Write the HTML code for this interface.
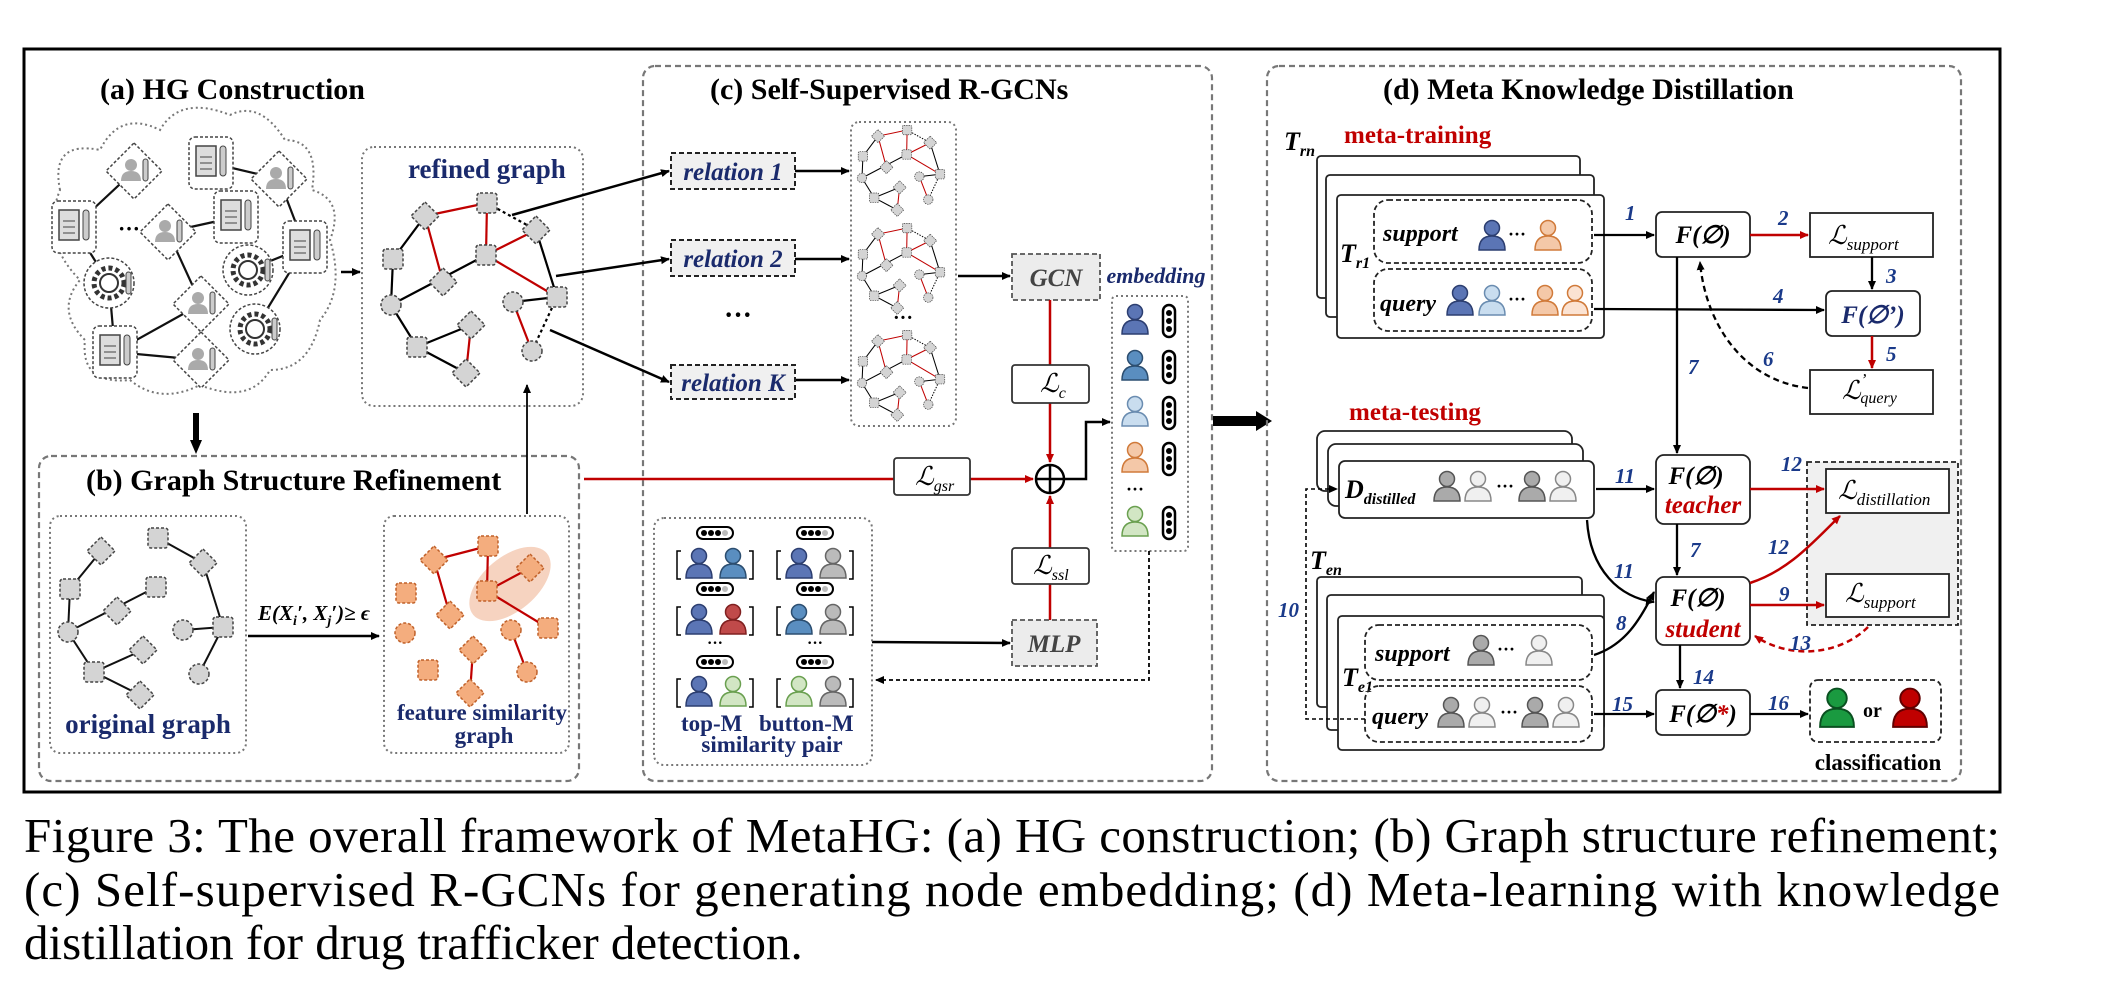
<!DOCTYPE html>
<html><head><meta charset="utf-8"><style>
html,body{margin:0;padding:0;background:#fff;}
svg{display:block;}
text{font-family:"Liberation Serif",serif;}
.t{font-weight:bold;font-size:30px;fill:#000;}
.bl{font-style:italic;font-weight:bold;fill:#1a2a6c;}
.n{font-style:italic;font-size:21px;fill:#1a3a8a;}
.red{fill:#c00000;font-weight:bold;}
</style></head><body>
<svg width="2105" height="999" viewBox="0 0 2105 999" xmlns="http://www.w3.org/2000/svg">
<defs>
<marker id="ak" markerWidth="10" markerHeight="10" refX="8" refY="5" orient="auto" markerUnits="userSpaceOnUse"><path d="M0,1 L9,5 L0,9 Z" fill="#000"/></marker>
<marker id="ar" markerWidth="10" markerHeight="10" refX="8" refY="5" orient="auto" markerUnits="userSpaceOnUse"><path d="M0,1 L9,5 L0,9 Z" fill="#c00000"/></marker>
<g id="p"><circle cx="0" cy="-9" r="7.5"/><path d="M-13,13 Q-13,-1 0,-1 Q13,-1 13,13 Z"/></g>
<g id="pill"><rect x="-6" y="-16" width="12" height="32" rx="6" fill="#fff" stroke="#000" stroke-width="2.5"/><circle cx="0" cy="-8" r="3" fill="#000"/><circle cx="0" cy="0" r="3" fill="#000"/><circle cx="0" cy="8" r="3" fill="#000"/></g>
<g id="hp"><rect x="-18" y="-6" width="36" height="12" rx="6" fill="#fff" stroke="#000" stroke-width="2"/><circle cx="-11" cy="0" r="3" fill="#000"/><circle cx="-4" cy="0" r="3" fill="#000"/><circle cx="3" cy="0" r="3" fill="#000"/><circle cx="10" cy="0" r="3" fill="#bbb"/></g>
<g id="sq"><rect x="-10" y="-10" width="20" height="20" rx="3" stroke-dasharray="3,2"/></g>
<g id="dm"><path d="M0,-14 L14,0 L0,14 L-14,0 Z" stroke-dasharray="3,2"/></g>
<g id="rg" stroke-width="2.2">
<g fill="none">
<line x1="425" y1="216" x2="487" y2="203" stroke="#c00000"/>
<line x1="425" y1="216" x2="443" y2="282" stroke="#c00000"/>
<line x1="487" y1="203" x2="486" y2="255" stroke="#c00000"/>
<line x1="486" y1="255" x2="536" y2="230" stroke="#c00000"/>
<line x1="486" y1="255" x2="557" y2="297" stroke="#c00000"/>
<line x1="513" y1="302" x2="532" y2="351" stroke="#c00000"/>
<line x1="471" y1="325" x2="466" y2="373" stroke="#c00000"/>
<line x1="425" y1="216" x2="393" y2="259" stroke="#000"/>
<line x1="393" y1="259" x2="391" y2="305" stroke="#000"/>
<line x1="391" y1="305" x2="486" y2="255" stroke="#000"/>
<line x1="391" y1="305" x2="417" y2="347" stroke="#000"/>
<line x1="417" y1="347" x2="471" y2="325" stroke="#000"/>
<line x1="417" y1="347" x2="466" y2="373" stroke="#000"/>
<line x1="487" y1="203" x2="536" y2="230" stroke="#000" stroke-dasharray="3,3"/>
<line x1="536" y1="230" x2="557" y2="297" stroke="#000"/>
<line x1="513" y1="302" x2="557" y2="297" stroke="#000"/>
<line x1="557" y1="297" x2="532" y2="351" stroke="#000" stroke-dasharray="3,3"/>
</g>
<g fill="#d4d4d4" stroke="#444" stroke-width="1.5">
<use href="#dm" x="425" y="216"/><use href="#sq" x="487" y="203"/><use href="#dm" x="536" y="230"/>
<use href="#sq" x="393" y="259"/><use href="#sq" x="486" y="255"/><use href="#dm" x="443" y="282"/>
<circle cx="391" cy="305" r="10" stroke-dasharray="3,2"/><circle cx="513" cy="302" r="10" stroke-dasharray="3,2"/>
<use href="#sq" x="557" y="297"/><use href="#dm" x="471" y="325"/><use href="#sq" x="417" y="347"/>
<use href="#dm" x="466" y="373"/><circle cx="532" cy="351" r="10" stroke-dasharray="3,2"/>
</g>
</g>
<g id="doc"><rect x="-22" y="-26" width="44" height="52" rx="6" fill="#fff" stroke="#444" stroke-dasharray="3,2" stroke-width="1.5"/><rect x="-15" y="-17" width="20" height="30" fill="#ddd" stroke="#444" stroke-width="1.5"/><line x1="-11" y1="-6" x2="1" y2="-6" stroke="#444"/><line x1="-11" y1="0" x2="1" y2="0" stroke="#444"/><line x1="-11" y1="6" x2="1" y2="6" stroke="#444"/><rect x="9" y="-17" width="6" height="30" rx="3" fill="#ccc" stroke="#444"/></g>
<g id="pd"><path d="M0,-28 L28,0 L0,28 L-28,0 Z" fill="#fff" stroke="#444" stroke-dasharray="3,2" stroke-width="1.5"/><circle cx="-3" cy="-6" r="6" fill="#aaa"/><path d="M-13,10 Q-13,0 -3,0 Q7,0 7,10 Z" fill="#aaa"/><rect x="9" y="-12" width="5" height="22" rx="2.5" fill="#ccc" stroke="#444"/></g>
<g id="gear"><circle r="25" fill="#fff" stroke="#444" stroke-dasharray="3,2" stroke-width="1.5"/><circle r="15" fill="none" stroke="#333" stroke-width="5" stroke-dasharray="4,3"/><circle r="9" fill="#fff" stroke="#333" stroke-width="2"/><rect x="17" y="-11" width="5" height="22" rx="2.5" fill="#ccc" stroke="#444"/></g>
</defs>

<rect x="24" y="49" width="1976" height="743" fill="#fff" stroke="#000" stroke-width="3"/>

<text class="t" x="100" y="99">(a) HG Construction</text>
<path d="M60,190 Q50,140 100,150 Q120,110 160,130 Q180,95 230,115 Q260,100 285,140 Q320,140 312,190 Q345,200 330,240 Q345,290 320,320 Q310,370 270,370 Q250,405 200,385 Q160,405 130,380 Q80,385 85,340 Q55,310 80,280 Q40,240 60,190 Z" fill="none" stroke="#777" stroke-width="2" stroke-dasharray="2,3"/>
<g stroke="#111" stroke-width="2.2">
<line x1="134" y1="171" x2="74" y2="227"/><line x1="211" y1="163" x2="279" y2="179"/><line x1="279" y1="179" x2="305" y2="247"/>
<line x1="168" y1="232" x2="236" y2="217"/><line x1="168" y1="232" x2="201" y2="304"/><line x1="74" y1="227" x2="109" y2="283"/>
<line x1="109" y1="283" x2="115" y2="352"/><line x1="115" y1="352" x2="201" y2="304"/><line x1="305" y1="247" x2="248" y2="270"/>
<line x1="305" y1="247" x2="255" y2="329"/><line x1="115" y1="352" x2="201" y2="360"/>
</g>
<use href="#pd" x="134" y="171"/><use href="#doc" x="211" y="163"/><use href="#pd" x="279" y="179"/>
<use href="#doc" x="74" y="227"/><use href="#pd" x="168" y="232"/><use href="#doc" x="236" y="217"/>
<use href="#doc" x="305" y="247"/><use href="#gear" x="109" y="283"/><use href="#gear" x="248" y="270"/>
<use href="#pd" x="201" y="304"/><use href="#gear" x="255" y="329"/><use href="#doc" x="115" y="352"/><use href="#pd" x="201" y="360"/>
<text x="118" y="236" font-size="22" font-weight="bold">···</text>
<line x1="341" y1="272" x2="360" y2="272" stroke="#000" stroke-width="2.5" marker-end="url(#ak)"/>
<rect x="362" y="147" width="221" height="259" rx="12" fill="none" stroke="#777" stroke-width="2" stroke-dasharray="2,3"/>
<text class="bl" x="408" y="178" font-size="27" style="font-style:normal">refined graph</text>
<use href="#rg"/>
<line x1="196" y1="413" x2="196" y2="447" stroke="#000" stroke-width="6"/>
<path d="M190,440 L196,454 L202,440 Z" fill="#000"/>

<rect x="39" y="456" width="540" height="325" rx="12" fill="none" stroke="#777" stroke-width="2.2" stroke-dasharray="6,4"/>
<text class="t" x="86" y="490">(b) Graph Structure Refinement</text>
<rect x="50" y="516" width="196" height="237" rx="10" fill="none" stroke="#777" stroke-width="2" stroke-dasharray="2,3"/>
<g stroke="#111" stroke-width="2">
<line x1="101" y1="551" x2="70" y2="589"/><line x1="70" y1="589" x2="68" y2="632"/><line x1="68" y1="632" x2="156" y2="587"/>
<line x1="158" y1="538" x2="203" y2="563"/><line x1="203" y1="563" x2="223" y2="627"/><line x1="183" y1="630" x2="223" y2="627"/>
<line x1="223" y1="627" x2="199" y2="674"/><line x1="68" y1="632" x2="94" y2="672"/><line x1="94" y1="672" x2="143" y2="650"/><line x1="94" y1="672" x2="140" y2="695"/>
</g>
<g fill="#d4d4d4" stroke="#444" stroke-width="1.5">
<use href="#dm" x="101" y="551"/><use href="#sq" x="158" y="538"/><use href="#dm" x="203" y="563"/><use href="#sq" x="70" y="589"/>
<use href="#sq" x="156" y="587"/><use href="#dm" x="117" y="611"/><circle cx="68" cy="632" r="10" stroke-dasharray="3,2"/>
<circle cx="183" cy="630" r="10" stroke-dasharray="3,2"/><use href="#sq" x="223" y="627"/><use href="#dm" x="143" y="650"/>
<use href="#sq" x="94" y="672"/><use href="#dm" x="140" y="695"/><circle cx="199" cy="674" r="10" stroke-dasharray="3,2"/>
</g>
<text class="bl" x="148" y="733" font-size="27" text-anchor="middle" style="font-style:normal">original graph</text>
<line x1="248" y1="636" x2="379" y2="636" stroke="#000" stroke-width="2.5" marker-end="url(#ak)"/>
<text x="314" y="620" font-size="21" font-style="italic" font-weight="bold" text-anchor="middle">E(X<tspan font-size="14" dy="5">i</tspan><tspan dy="-5">′, X</tspan><tspan font-size="14" dy="5">j</tspan><tspan dy="-5">′)≥ ϵ</tspan></text>
<rect x="384" y="516" width="185" height="237" rx="10" fill="none" stroke="#777" stroke-width="2" stroke-dasharray="2,3"/>
<ellipse cx="510" cy="584" rx="48" ry="27" transform="rotate(-40 510 584)" fill="#f6d3c0"/>
<g stroke="#c00000" stroke-width="2.2">
<line x1="434" y1="560" x2="488" y2="546"/><line x1="434" y1="560" x2="450" y2="615"/><line x1="488" y1="546" x2="487" y2="591"/>
<line x1="487" y1="591" x2="530" y2="568"/><line x1="487" y1="591" x2="548" y2="628"/><line x1="511" y1="630" x2="527" y2="672"/><line x1="473" y1="650" x2="470" y2="693"/>
</g>
<g fill="#f4ad7e" stroke="#c0612a" stroke-width="1.5">
<use href="#dm" x="434" y="560"/><use href="#sq" x="488" y="546"/><use href="#dm" x="530" y="568"/><use href="#sq" x="406" y="593"/>
<use href="#sq" x="487" y="591"/><use href="#dm" x="450" y="615"/><circle cx="405" cy="633" r="10" stroke-dasharray="3,2"/>
<circle cx="511" cy="630" r="10" stroke-dasharray="3,2"/><use href="#sq" x="548" y="628"/><use href="#dm" x="473" y="650"/>
<use href="#sq" x="428" y="670"/><use href="#dm" x="470" y="693"/><circle cx="527" cy="672" r="10" stroke-dasharray="3,2"/>
</g>
<text class="bl" x="482" y="720" font-size="23" text-anchor="middle" style="font-style:normal">feature similarity</text>
<text class="bl" x="484" y="743" font-size="23" text-anchor="middle" style="font-style:normal">graph</text>
<line x1="527" y1="514" x2="527" y2="385" stroke="#000" stroke-width="1.8" marker-end="url(#ak)"/>

<rect x="643" y="66" width="569" height="715" rx="12" fill="none" stroke="#777" stroke-width="2.2" stroke-dasharray="6,4"/>
<text class="t" x="710" y="99">(c) Self-Supervised R-GCNs</text>
<g stroke="#000" stroke-width="2.5" fill="none">
<line x1="512" y1="215" x2="669" y2="171" marker-end="url(#ak)"/>
<line x1="556" y1="276" x2="669" y2="259" marker-end="url(#ak)"/>
<line x1="550" y1="330" x2="669" y2="382" marker-end="url(#ak)"/>
<line x1="795" y1="171" x2="849" y2="171" marker-end="url(#ak)"/>
<line x1="795" y1="259" x2="849" y2="259" marker-end="url(#ak)"/>
<line x1="795" y1="380" x2="849" y2="380" marker-end="url(#ak)"/>
<line x1="958" y1="276" x2="1010" y2="276" marker-end="url(#ak)"/>
</g>
<g fill="#f0f0f0" stroke="#222" stroke-width="2" stroke-dasharray="5,3">
<rect x="671" y="153" width="124" height="36"/><rect x="671" y="240" width="124" height="36"/><rect x="671" y="365" width="124" height="34"/>
</g>
<text class="bl" x="733" y="180" font-size="25" text-anchor="middle">relation 1</text>
<text class="bl" x="733" y="267" font-size="25" text-anchor="middle">relation 2</text>
<text class="bl" x="733" y="391" font-size="25" text-anchor="middle">relation K</text>
<text x="738" y="324" font-size="28" font-weight="bold" text-anchor="middle">···</text>
<rect x="851" y="122" width="105" height="304" rx="8" fill="none" stroke="#777" stroke-width="2" stroke-dasharray="2,3"/>
<use href="#rg" transform="translate(901,170) scale(.47) translate(-474,-288)"/>
<use href="#rg" transform="translate(901,268) scale(.47) translate(-474,-288)"/>
<use href="#rg" transform="translate(901,375) scale(.47) translate(-474,-288)"/>
<text x="903" y="324" font-size="20" font-weight="bold" text-anchor="middle">···</text>
<rect x="1012" y="254" width="88" height="46" fill="#ececec" stroke="#555" stroke-width="1.8" stroke-dasharray="5,3"/>
<text x="1056" y="286" font-size="25" font-weight="bold" font-style="italic" text-anchor="middle" fill="#444">GCN</text>
<text class="bl" x="1156" y="283" font-size="22" text-anchor="middle">embedding</text>
<g stroke="#c00000" stroke-width="2.5" fill="none">
<line x1="1050" y1="300" x2="1050" y2="462" marker-end="url(#ar)"/>
<line x1="1050" y1="620" x2="1050" y2="496" marker-end="url(#ar)"/>
<line x1="584" y1="479" x2="1033" y2="479" marker-end="url(#ar)"/>
</g>
<g fill="#fff" stroke="#333" stroke-width="1.8">
<rect x="1012" y="365" width="77" height="38" rx="3"/><rect x="894" y="458" width="76" height="37" rx="3"/><rect x="1012" y="548" width="77" height="36" rx="3"/>
</g>
<text x="1040" y="392" font-size="26" font-style="italic">ℒ<tspan font-size="16" dy="6">c</tspan></text>
<text x="915" y="485" font-size="26" font-style="italic">ℒ<tspan font-size="16" dy="6">gsr</tspan></text>
<text x="1033" y="574" font-size="26" font-style="italic">ℒ<tspan font-size="16" dy="6">ssl</tspan></text>
<circle cx="1050" cy="479" r="14" fill="#fff" stroke="#000" stroke-width="2.5"/>
<line x1="1036" y1="479" x2="1064" y2="479" stroke="#000" stroke-width="2.5"/><line x1="1050" y1="465" x2="1050" y2="493" stroke="#000" stroke-width="2.5"/>
<path d="M1064,479 L1086,479 L1086,422 L1110,422" stroke="#000" stroke-width="2.5" fill="none" marker-end="url(#ak)"/>
<rect x="1112" y="296" width="76" height="255" rx="4" fill="none" stroke="#777" stroke-width="2" stroke-dasharray="2,3"/>
<g stroke-width="1.5">
<use href="#p" x="1135" y="321" fill="#5b75b5" stroke="#2c3e70"/>
<use href="#p" x="1135" y="367" fill="#5a8ec0" stroke="#2c4e70"/>
<use href="#p" x="1135" y="413" fill="#c9ddef" stroke="#6a8cb0"/>
<use href="#p" x="1135" y="459" fill="#f4c8a8" stroke="#d07a3a"/>
<use href="#p" x="1135" y="523" fill="#d2e6c4" stroke="#6aa050"/>
</g>
<use href="#pill" x="1169" y="321"/><use href="#pill" x="1169" y="367"/><use href="#pill" x="1169" y="413"/><use href="#pill" x="1169" y="459"/><use href="#pill" x="1169" y="523"/>
<text x="1135" y="495" font-size="18" font-weight="bold" text-anchor="middle">···</text>
<rect x="1012" y="620" width="85" height="46" fill="#ececec" stroke="#555" stroke-width="1.8" stroke-dasharray="5,3"/>
<text x="1054" y="652" font-size="25" font-weight="bold" font-style="italic" text-anchor="middle" fill="#444">MLP</text>
<line x1="872" y1="642" x2="1010" y2="643" stroke="#000" stroke-width="2.5" marker-end="url(#ak)"/>
<path d="M1149,551 L1149,680 L876,680" stroke="#000" stroke-width="1.8" stroke-dasharray="4,3" fill="none" marker-end="url(#ak)"/>
<rect x="654" y="518" width="218" height="247" rx="10" fill="none" stroke="#777" stroke-width="2" stroke-dasharray="2,3"/>
<g stroke-width="1.5" fill="none" stroke="#000">
<path d="M681,551 L677,551 L677,579 L681,579 M749,551 L753,551 L753,579 L749,579"/>
<path d="M781,551 L777,551 L777,579 L781,579 M849,551 L853,551 L853,579 L849,579"/>
<path d="M681,607 L677,607 L677,635 L681,635 M749,607 L753,607 L753,635 L749,635"/>
<path d="M781,607 L777,607 L777,635 L781,635 M849,607 L853,607 L853,635 L849,635"/>
<path d="M681,679 L677,679 L677,707 L681,707 M749,679 L753,679 L753,707 L749,707"/>
<path d="M781,679 L777,679 L777,707 L781,707 M849,679 L853,679 L853,707 L849,707"/>
</g>
<use href="#hp" x="715" y="533"/><use href="#hp" x="815" y="533"/><use href="#hp" x="715" y="589"/><use href="#hp" x="815" y="589"/><use href="#hp" x="715" y="662"/><use href="#hp" x="815" y="662"/>
<g stroke-width="1.5">
<use href="#p" x="699" y="565" fill="#5b75b5" stroke="#2c3e70"/><use href="#p" x="733" y="565" fill="#5a8ec0" stroke="#2c4e70"/>
<use href="#p" x="799" y="565" fill="#5b75b5" stroke="#2c3e70"/><use href="#p" x="833" y="565" fill="#bbb" stroke="#666"/>
<use href="#p" x="699" y="621" fill="#5b75b5" stroke="#2c3e70"/><use href="#p" x="733" y="621" fill="#c04a4a" stroke="#802020"/>
<use href="#p" x="799" y="621" fill="#5a8ec0" stroke="#2c4e70"/><use href="#p" x="833" y="621" fill="#bbb" stroke="#666"/>
<use href="#p" x="699" y="693" fill="#5b75b5" stroke="#2c3e70"/><use href="#p" x="733" y="693" fill="#d2e6c4" stroke="#6aa050"/>
<use href="#p" x="799" y="693" fill="#d2e6c4" stroke="#6aa050"/><use href="#p" x="833" y="693" fill="#bbb" stroke="#666"/>
</g>
<text x="715" y="648" font-size="16" font-weight="bold" text-anchor="middle">···</text>
<text x="815" y="648" font-size="16" font-weight="bold" text-anchor="middle">···</text>
<text class="bl" x="681" y="731" font-size="23" style="font-style:normal">top-M</text>
<text class="bl" x="759" y="731" font-size="23" style="font-style:normal">button-M</text>
<text class="bl" x="772" y="752" font-size="23" text-anchor="middle" style="font-style:normal">similarity pair</text>

<line x1="1213" y1="421" x2="1258" y2="421" stroke="#000" stroke-width="10"/>
<path d="M1256,411 L1272,421 L1256,431 Z" fill="#000"/>

<rect x="1267" y="66" width="694" height="715" rx="12" fill="none" stroke="#777" stroke-width="2.2" stroke-dasharray="6,4"/>
<text class="t" x="1383" y="99">(d) Meta Knowledge Distillation</text>
<text x="1284" y="150" font-size="26" font-style="italic" font-weight="bold">T<tspan font-size="16" dy="6">rn</tspan></text>
<text class="red" x="1344" y="143" font-size="25">meta-training</text>
<g fill="#fff" stroke="#222" stroke-width="1.8">
<rect x="1317" y="156" width="263" height="142" rx="4"/><rect x="1326" y="175" width="268" height="142" rx="4"/><rect x="1337" y="195" width="267" height="143" rx="4"/>
</g>
<text x="1340" y="262" font-size="26" font-style="italic" font-weight="bold">T<tspan font-size="16" dy="6">r1</tspan></text>
<g fill="none" stroke="#222" stroke-width="1.8" stroke-dasharray="5,3">
<rect x="1374" y="200" width="218" height="63" rx="14"/><rect x="1374" y="269" width="218" height="62" rx="14"/>
</g>
<text x="1383" y="241" font-size="24" font-style="italic" font-weight="bold">support</text>
<text x="1380" y="311" font-size="24" font-style="italic" font-weight="bold">query</text>
<g stroke-width="1.5">
<use href="#p" x="1492" y="237" fill="#5b75b5" stroke="#2c3e70"/><use href="#p" x="1548" y="237" fill="#f4c8a8" stroke="#d07a3a"/>
<use href="#p" x="1460" y="302" fill="#5b75b5" stroke="#2c3e70"/><use href="#p" x="1492" y="302" fill="#c9ddef" stroke="#6a8cb0"/>
<use href="#p" x="1545" y="302" fill="#f4c8a8" stroke="#d07a3a"/><use href="#p" x="1575" y="302" fill="#fbe3d3" stroke="#d07a3a"/>
</g>
<text x="1508" y="240" font-size="18" font-weight="bold">···</text>
<text x="1508" y="305" font-size="18" font-weight="bold">···</text>

<g fill="#fff" stroke="#222" stroke-width="1.8">
<rect x="1656" y="212" width="94" height="45" rx="6"/><rect x="1810" y="213" width="123" height="44"/>
<rect x="1826" y="291" width="94" height="45" rx="6"/><rect x="1810" y="370" width="123" height="44"/>
</g>
<text x="1703" y="243" font-size="25" font-style="italic" font-weight="bold" text-anchor="middle">F(∅)</text>
<text x="1873" y="323" font-size="25" font-style="italic" font-weight="bold" text-anchor="middle" fill="#1a2a6c">F(∅’)</text>
<text x="1828" y="244" font-size="26" font-style="italic">ℒ<tspan font-size="17" dy="6">support</tspan></text>
<text x="1842" y="399" font-size="26" font-style="italic">ℒ<tspan font-size="17" dy="-14">’</tspan><tspan font-size="16" dy="18" dx="-6">query</tspan></text>

<text class="red" x="1349" y="420" font-size="25">meta-testing</text>
<g fill="#fff" stroke="#222" stroke-width="1.8">
<rect x="1317" y="431" width="255" height="60" rx="8"/><rect x="1328" y="444" width="255" height="62" rx="8"/><rect x="1339" y="461" width="255" height="57" rx="6"/>
</g>
<text x="1345" y="498" font-size="26" font-style="italic" font-weight="bold">D<tspan font-size="16" dy="6">distilled</tspan></text>
<g stroke-width="1.5">
<use href="#p" x="1447" y="488" fill="#aaa" stroke="#555"/><use href="#p" x="1478" y="488" fill="#f0f0f0" stroke="#888"/>
<use href="#p" x="1532" y="488" fill="#aaa" stroke="#555"/><use href="#p" x="1563" y="488" fill="#f0f0f0" stroke="#888"/>
</g>
<text x="1496" y="492" font-size="18" font-weight="bold">···</text>

<text x="1310" y="569" font-size="26" font-style="italic" font-weight="bold">T<tspan font-size="16" dy="6">en</tspan></text>
<g fill="#fff" stroke="#222" stroke-width="1.8">
<rect x="1317" y="577" width="265" height="130" rx="4"/><rect x="1327" y="595" width="277" height="135" rx="4"/><rect x="1338" y="616" width="266" height="134" rx="4"/>
</g>
<text x="1342" y="686" font-size="26" font-style="italic" font-weight="bold">T<tspan font-size="16" dy="6">e1</tspan></text>
<g fill="none" stroke="#222" stroke-width="1.8" stroke-dasharray="5,3">
<rect x="1365" y="625" width="227" height="55" rx="14"/><rect x="1365" y="686" width="227" height="56" rx="14"/>
</g>
<text x="1375" y="661" font-size="24" font-style="italic" font-weight="bold">support</text>
<text x="1372" y="724" font-size="24" font-style="italic" font-weight="bold">query</text>
<g stroke-width="1.5">
<use href="#p" x="1481" y="652" fill="#aaa" stroke="#555"/><use href="#p" x="1539" y="652" fill="#f0f0f0" stroke="#888"/>
<use href="#p" x="1451" y="714" fill="#aaa" stroke="#555"/><use href="#p" x="1482" y="714" fill="#f0f0f0" stroke="#888"/>
<use href="#p" x="1535" y="714" fill="#aaa" stroke="#555"/><use href="#p" x="1566" y="714" fill="#f0f0f0" stroke="#888"/>
</g>
<text x="1497" y="655" font-size="18" font-weight="bold">···</text>
<text x="1500" y="718" font-size="18" font-weight="bold">···</text>

<rect x="1807" y="462" width="151" height="163" fill="#f0f0f0" stroke="#222" stroke-width="1.8" stroke-dasharray="5,3"/>
<g fill="#fff" stroke="#222" stroke-width="1.8">
<rect x="1656" y="455" width="94" height="69" rx="8"/><rect x="1656" y="577" width="94" height="68" rx="8"/>
<rect x="1656" y="690" width="94" height="45" rx="6"/>
<rect x="1826" y="469" width="123" height="44"/><rect x="1826" y="574" width="123" height="43"/>
</g>
<rect x="1810" y="680" width="131" height="62" rx="8" fill="none" stroke="#222" stroke-width="1.8" stroke-dasharray="5,3"/>
<text x="1696" y="484" font-size="25" font-style="italic" font-weight="bold" text-anchor="middle">F(∅)</text>
<text x="1703" y="513" font-size="25" font-style="italic" font-weight="bold" text-anchor="middle" fill="#c00000">teacher</text>
<text x="1698" y="606" font-size="25" font-style="italic" font-weight="bold" text-anchor="middle">F(∅)</text>
<text x="1703" y="637" font-size="25" font-style="italic" font-weight="bold" text-anchor="middle" fill="#c00000">student</text>
<text x="1703" y="722" font-size="25" font-style="italic" font-weight="bold" text-anchor="middle">F(∅<tspan fill="#c00000">*</tspan>)</text>
<text x="1838" y="499" font-size="26" font-style="italic">ℒ<tspan font-size="17" dy="6">distillation</tspan></text>
<text x="1845" y="602" font-size="26" font-style="italic">ℒ<tspan font-size="17" dy="6">support</tspan></text>
<use href="#p" x="1837" y="710" fill="#1a9a40" stroke="#0a5020" stroke-width="1.5" transform="translate(1837,710) scale(1.3) translate(-1837,-710)"/>
<text x="1863" y="717" font-size="20" font-weight="bold">or</text>
<use href="#p" x="1910" y="710" fill="#c00000" stroke="#600000" stroke-width="1.5" transform="translate(1910,710) scale(1.3) translate(-1910,-710)"/>
<text x="1878" y="770" font-size="23" font-weight="bold" text-anchor="middle">classification</text>

<g stroke="#000" stroke-width="2.3" fill="none">
<line x1="1594" y1="235" x2="1654" y2="235" marker-end="url(#ak)"/>
<line x1="1872" y1="257" x2="1872" y2="289" marker-end="url(#ak)"/>
<line x1="1594" y1="309" x2="1824" y2="310" marker-end="url(#ak)"/>
<path d="M1808,388 C1740,380 1705,320 1700,262" stroke-dasharray="6,4" marker-end="url(#ak)"/>
<line x1="1677" y1="257" x2="1677" y2="453" marker-end="url(#ak)"/>
<line x1="1596" y1="489" x2="1654" y2="489" marker-end="url(#ak)"/>
<line x1="1677" y1="524" x2="1677" y2="575" marker-end="url(#ak)"/>
<path d="M1587,520 C1590,570 1620,598 1654,602" marker-end="url(#ak)"/>
<path d="M1594,655 C1625,645 1640,620 1654,592" marker-end="url(#ak)"/>
<line x1="1680" y1="645" x2="1680" y2="688" marker-end="url(#ak)"/>
<line x1="1594" y1="714" x2="1654" y2="714" marker-end="url(#ak)"/>
<line x1="1750" y1="714" x2="1808" y2="714" marker-end="url(#ak)"/>
<path d="M1365,719 L1306,719 L1306,489 L1337,489" stroke-width="1.6" stroke-dasharray="4,3" marker-end="url(#ak)"/>
</g>
<g stroke="#c00000" stroke-width="2.5" fill="none">
<line x1="1750" y1="235" x2="1808" y2="235" marker-end="url(#ar)"/>
<line x1="1872" y1="336" x2="1872" y2="368" marker-end="url(#ar)"/>
<line x1="1750" y1="489" x2="1824" y2="489" marker-end="url(#ar)"/>
<path d="M1750,583 C1790,570 1815,540 1840,516" marker-end="url(#ar)"/>
<line x1="1750" y1="605" x2="1824" y2="605" marker-end="url(#ar)"/>
<path d="M1868,627 C1840,655 1790,660 1755,636" stroke-dasharray="6,4" marker-end="url(#ar)"/>
</g>
<g class="n" font-weight="bold">
<text x="1625" y="220">1</text><text x="1778" y="225">2</text><text x="1886" y="283">3</text>
<text x="1773" y="303">4</text><text x="1886" y="361">5</text><text x="1763" y="366">6</text>
<text x="1688" y="374">7</text><text x="1615" y="483">11</text><text x="1781" y="471">12</text>
<text x="1690" y="557">7</text><text x="1614" y="578">11</text><text x="1768" y="554">12</text>
<text x="1779" y="601">9</text><text x="1790" y="650">13</text><text x="1616" y="630">8</text>
<text x="1693" y="684">14</text><text x="1612" y="711">15</text><text x="1768" y="710">16</text>
<text x="1278" y="617">10</text>
</g>

<g font-size="49" fill="#000">
<text x="24" y="852" textLength="1976" lengthAdjust="spacing">Figure 3: The overall framework of MetaHG: (a) HG construction; (b) Graph structure refinement;</text>
<text x="24" y="906" textLength="1976" lengthAdjust="spacing">(c) Self-supervised R-GCNs for generating node embedding; (d) Meta-learning with knowledge</text>
<text x="24" y="959">distillation for drug trafficker detection.</text>
</g>
</svg>
</body></html>
